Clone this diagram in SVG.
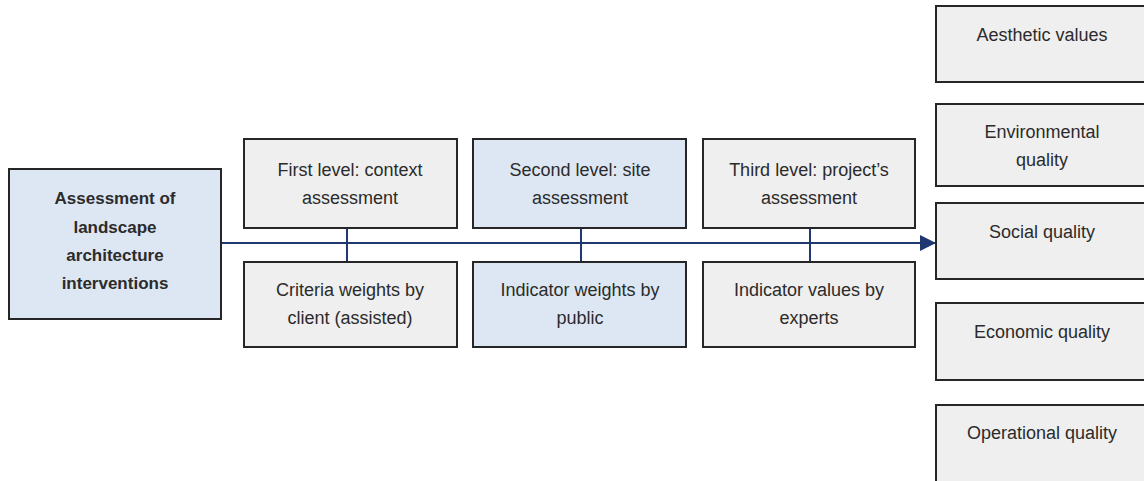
<svg xmlns="http://www.w3.org/2000/svg" width="1144" height="481" viewBox="0 0 1144 481">
<defs>
<style>
.box{stroke:#262626;stroke-width:2}
.grey{fill:#efefef}
.blue{fill:#dde7f3}
.t{font-family:"Liberation Sans",Arial,sans-serif;font-size:18px;fill:#2b2b2b;text-anchor:middle}
.b{font-weight:bold;font-size:17px}
.c{stroke:#1f3871;stroke-width:2;fill:none}
</style>
<marker id="arr" viewBox="0 0 10 10" refX="10" refY="5" markerWidth="8" markerHeight="8.5" markerUnits="strokeWidth" orient="auto">
<path d="M0,0 L10,5 L0,10 z" fill="#1f3871"/>
</marker>
</defs>
<rect width="1144" height="481" fill="#ffffff"/>
<g id="connectors">
<line class="c" x1="221" y1="243" x2="936" y2="243" marker-end="url(#arr)"/>
<line class="c" x1="347" y1="228" x2="347" y2="262"/>
<line class="c" x1="581" y1="228" x2="581" y2="262"/>
<line class="c" x1="810" y1="228" x2="810" y2="262"/>
</g>
<g id="main">
<rect class="box blue" x="9" y="169" width="212" height="150"/>
<text class="t b" x="115" y="204">Assessment of</text>
<text class="t b" x="115" y="233">landscape</text>
<text class="t b" x="115" y="261">architecture</text>
<text class="t b" x="115" y="289">interventions</text>
</g>
<g id="level1">
<rect class="box grey" x="244" y="139" width="213" height="89"/>
<text class="t" x="350" y="176">First level: context</text>
<text class="t" x="350" y="204">assessment</text>
</g>
<g id="criteria">
<rect class="box grey" x="244" y="262" width="213" height="85"/>
<text class="t" x="350" y="296">Criteria weights by</text>
<text class="t" x="350" y="324">client (assisted)</text>
</g>
<g id="level2">
<rect class="box blue" x="473" y="139" width="213" height="89"/>
<text class="t" x="580" y="176">Second level: site</text>
<text class="t" x="580" y="204">assessment</text>
</g>
<g id="indweights">
<rect class="box blue" x="473" y="262" width="213" height="85"/>
<text class="t" x="580" y="296">Indicator weights by</text>
<text class="t" x="580" y="324">public</text>
</g>
<g id="level3">
<rect class="box grey" x="703" y="139" width="212" height="89"/>
<text class="t" x="809" y="176">Third level: project’s</text>
<text class="t" x="809" y="204">assessment</text>
</g>
<g id="indvalues">
<rect class="box grey" x="703" y="262" width="212" height="85"/>
<text class="t" x="809" y="296">Indicator values by</text>
<text class="t" x="809" y="324">experts</text>
</g>
<g id="aesthetic">
<rect class="box grey" x="936" y="6" width="220" height="76"/>
<text class="t" x="1042" y="41">Aesthetic values</text>
</g>
<g id="environmental">
<rect class="box grey" x="936" y="104" width="220" height="82"/>
<text class="t" x="1042" y="138">Environmental</text>
<text class="t" x="1042" y="166">quality</text>
</g>
<g id="social">
<rect class="box grey" x="936" y="203" width="220" height="76"/>
<text class="t" x="1042" y="238">Social quality</text>
</g>
<g id="economic">
<rect class="box grey" x="936" y="303" width="220" height="77"/>
<text class="t" x="1042" y="338">Economic quality</text>
</g>
<g id="operational">
<rect class="box grey" x="936" y="405" width="220" height="90"/>
<text class="t" x="1042" y="439">Operational quality</text>
</g>
</svg>
